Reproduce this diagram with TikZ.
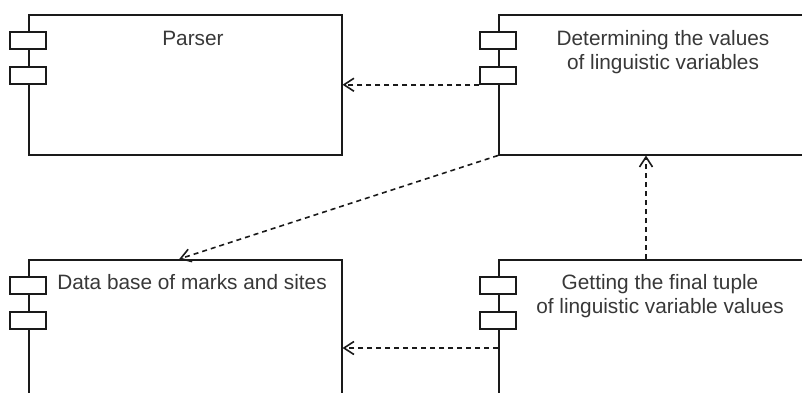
\documentclass[tikz,border=0pt]{standalone}
\usepackage{fontspec}
\setmainfont{Liberation Sans}
\usetikzlibrary{arrows.meta}
\definecolor{cmpInk}{HTML}{1A1A1A}
\definecolor{cmpText}{HTML}{383838}
\tikzset{
  cmp box/.style={draw=cmpInk, line width=1.5pt, fill=white, anchor=north west, inner sep=0pt},
  cmp port/.style={draw=cmpInk, line width=1.5pt, fill=white, minimum width=36pt, minimum height=17pt, inner sep=0pt},
  cmp label/.style={font=\fontsize{20.8}{24.5}\selectfont, text=cmpText, align=center, inner sep=0pt},
  cmp dep/.style={draw=cmpInk, line width=1.6pt, dash pattern=on 5pt off 4pt, -{Straight Barb[length=10pt,width=13pt]}},
}

\begin{document}
\begin{tikzpicture}[x=1pt,y=-1pt]
  \useasboundingbox (0,0) rectangle (802,392);
  \clip (0,0) rectangle (802,392);

  % component boxes
  \node[cmp box, minimum width=313pt, minimum height=140pt] (parser) at (28,14) {};
  \node[cmp box, minimum width=340pt, minimum height=140pt] (det) at (498,14) {};
  \node[cmp box, minimum width=313pt, minimum height=150pt] (base) at (28,259) {};
  \node[cmp box, minimum width=340pt, minimum height=150pt] (tuple) at (498,259) {};

  % the two small port rectangles on each left edge
  \foreach \b in {parser,det,base,tuple} {
    \node[cmp port] (\b-p1) at ([yshift=-26.5pt]\b.north west) {};
    \node[cmp port] (\b-p2) at ([yshift=-61.5pt]\b.north west) {};
  }

  \node[cmp label] (parser-txt) at (193,38.5) {Parser};
  \node[cmp label] (det-txt) at (663,52) {Determining the values\\of linguistic variables};
  \node[cmp label] (base-txt) at (192,282.5) {Data base of marks and sites};
  \node[cmp label] (tuple-txt) at (660,296) {Getting the final tuple\\of linguistic variable values};

  % dependencies
  \draw[cmp dep] (det-p2.south west) -- (parser.east |- det-p2.south west);
  \draw[cmp dep] (det.south west) -- ([xshift=-6pt]base.north);
  \draw[cmp dep] ([xshift=148pt]tuple.north west) -- ([xshift=148pt]det.south west);
  \coordinate (tuple-in) at ([yshift=-89pt]tuple.north west);
  \draw[cmp dep] (tuple-in) -- (base.east |- tuple-in);
\end{tikzpicture}
\end{document}
